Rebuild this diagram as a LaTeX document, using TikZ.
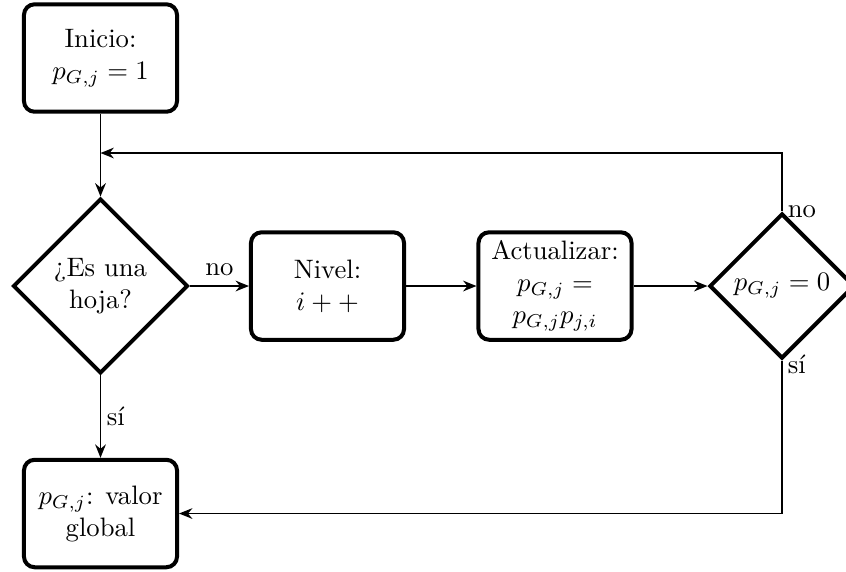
\documentclass[tikz,border=0pt]{standalone}
\usetikzlibrary{shapes.geometric,arrows.meta}
\begin{document}
\begin{tikzpicture}[x=0.375pt,y=-0.375pt,
  box/.style={draw, line width=1.5pt, rounded corners=4pt, minimum width=57.4pt, minimum height=40.3pt, align=center, inner sep=2pt},
  dec/.style={draw, diamond, line width=1.5pt, inner sep=0pt, align=center},
  line/.style={line width=0.7pt},
  conn/.style={line width=0.7pt, -{Stealth[length=5pt,width=4pt]}},
  lbl/.style={inner sep=2pt}]
\useasboundingbox (0,0) rectangle (846,571);
\node[box] (ini) at (100.5,58) {Inicio:\\$p_{G,j} = 1$};
\node[dec, minimum width=65.6pt, minimum height=65.6pt] (hoja) at (100.5,286) {¿Es una\\hoja?};
\node[box] (niv) at (327.5,286) {Nivel:\\$i++$};
\node[box] (act) at (555,286) {Actualizar:\\$p_{G,j} =$\\$p_{G,j}p_{j,i}$};
\node[dec, minimum width=54.4pt, minimum height=54.4pt] (cero) at (782,286) {$p_{G,j} = 0$};
\node[box] (glob) at (100.5,513.5) {$p_{G,j}$: valor\\global};
\coordinate (m) at (100.5,153);
\draw[line] (ini.south) -- (m);
\draw[conn] (m) -- (hoja.north);
\draw[conn] (hoja.east) -- node[above] {no} (niv.west);
\draw[conn] (niv.east) -- (act.west);
\draw[conn] (act.east) -- (cero.west);
\draw[conn] (cero.north) |- (m);
\draw[conn] (cero.south) |- (glob.east);
\draw[conn] (hoja.south) -- node[right, lbl] {sí} (glob.north);
\node[right, lbl] (lno) at (cero.north) {no};
\node[right, lbl, yshift=-1.5pt] (lsi) at (cero.south) {sí};
\end{tikzpicture}
\end{document}
